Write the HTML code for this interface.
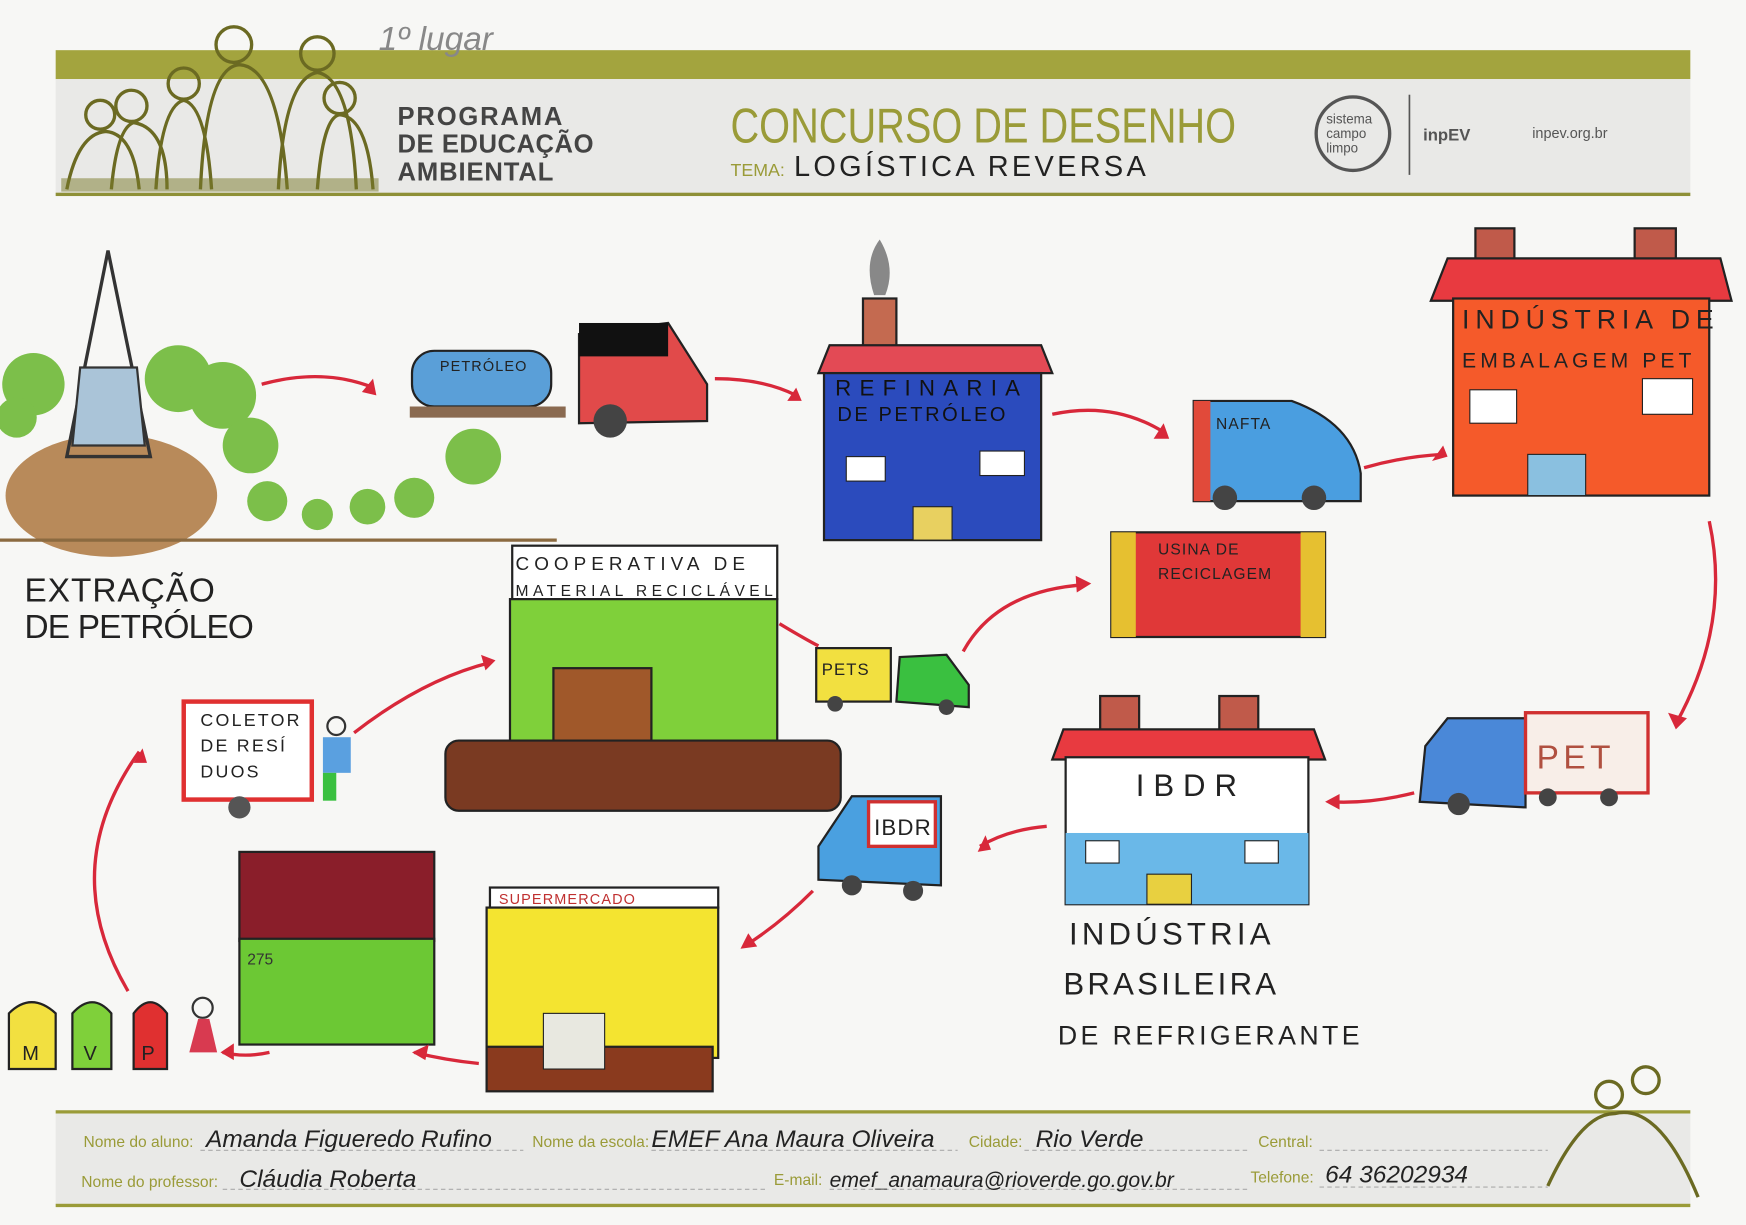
<!DOCTYPE html>
<html><head><meta charset="utf-8"><style>
html,body{margin:0;padding:0;background:#f6f6f4;}
svg{display:block}
text{font-family:"Liberation Sans",sans-serif}
.h{font-family:"Liberation Sans",sans-serif;fill:#222;letter-spacing:4px}
</style></head><body>
<svg width="1746" height="1225" viewBox="0 0 1568 1100" xmlns="http://www.w3.org/2000/svg">
<rect width="1568" height="1100" fill="#f7f7f5"/>
<!-- header -->
<rect x="50" y="45" width="1468" height="26" fill="#a3a43e"/>
<rect x="50" y="71" width="1468" height="103" fill="#e9e9e7"/>
<rect x="50" y="173" width="1468" height="3" fill="#8e9037"/>
<text x="340" y="45" font-size="30" fill="#888" font-style="italic" font-family="Liberation Serif">1º lugar</text>
<!-- people illustration -->
<g fill="none" stroke="#6b6a22" stroke-width="3">
<circle cx="90" cy="103" r="13"/><circle cx="118" cy="95" r="14"/><circle cx="165" cy="75" r="14"/><circle cx="210" cy="40" r="16"/><circle cx="285" cy="48" r="15"/><circle cx="305" cy="88" r="14"/>
<path d="M60 170 Q70 120 95 118 Q120 120 125 170"/><path d="M100 170 Q105 115 120 110 Q150 115 150 170"/><path d="M140 170 Q145 95 165 90 Q185 95 190 170"/><path d="M180 170 Q185 60 215 58 Q250 60 258 170"/><path d="M250 170 Q255 70 285 65 Q315 70 320 170"/><path d="M285 170 Q290 105 305 103 Q330 105 335 170"/>
</g>
<rect x="55" y="160" width="285" height="12" fill="#7a7a2a" opacity="0.5"/>
<text x="357" y="112" font-size="23" font-weight="bold" fill="#444" textLength="148">PROGRAMA</text>
<text x="357" y="137" font-size="23" font-weight="bold" fill="#444" textLength="176">DE EDUCAÇÃO</text>
<text x="357" y="162" font-size="23" font-weight="bold" fill="#444" textLength="140">AMBIENTAL</text>
<text x="656" y="128" font-size="44" fill="#9a9b38" textLength="454" lengthAdjust="spacingAndGlyphs">CONCURSO DE DESENHO</text>
<text x="656" y="158" font-size="16" fill="#9a9b38">TEMA:</text>
<text x="713" y="158" font-size="26" class="h" textLength="320">LOGÍSTICA   REVERSA</text>
<circle cx="1215" cy="120" r="33" fill="none" stroke="#555" stroke-width="3"/>
<text x="1191" y="111" font-size="12" fill="#555">sistema</text>
<text x="1191" y="124" font-size="12" fill="#555">campo</text>
<text x="1191" y="137" font-size="12" fill="#555">limpo</text>
<rect x="1265" y="85" width="1.5" height="72" fill="#555"/>
<text x="1278" y="126" font-size="15" font-weight="bold" fill="#555">inpEV</text>
<text x="1376" y="124" font-size="13" fill="#555">inpev.org.br</text>

<!-- extraction -->
<ellipse cx="100" cy="445" rx="95" ry="55" fill="#b88a5a"/>
<g fill="#7cbf4a"><circle cx="30" cy="345" r="28"/><circle cx="15" cy="375" r="18"/><circle cx="160" cy="340" r="30"/><circle cx="200" cy="355" r="30"/><circle cx="225" cy="400" r="25"/><circle cx="240" cy="450" r="18"/><circle cx="285" cy="462" r="14"/><circle cx="330" cy="455" r="16"/><circle cx="372" cy="447" r="18"/><circle cx="425" cy="410" r="25"/></g>
<path d="M60 410 L97 225 L135 410 Z" fill="none" stroke="#333" stroke-width="3"/>
<path d="M72 330 L123 330 L130 400 L65 400Z" fill="#aac4d8" stroke="#333" stroke-width="2"/>
<path d="M0 485 L500 485" stroke="#8b6a40" stroke-width="3"/>
<text x="22" y="540" font-size="30" class="h" textLength="175">EXTRAÇÃO</text>
<text x="22" y="573" font-size="30" class="h" textLength="210">DE PETRÓLEO</text>

<!-- petrol truck -->
<rect x="370" y="315" width="125" height="50" rx="20" fill="#5a9fd8" stroke="#222" stroke-width="2"/>
<text x="395" y="333" font-size="13" class="h" style="letter-spacing:1px">PETRÓLEO</text>
<rect x="368" y="365" width="140" height="10" fill="#8a6a50"/>
<path d="M520 300 L600 290 L635 345 L635 378 L520 380Z" fill="#e14a4a" stroke="#222" stroke-width="2"/>
<rect x="520" y="290" width="80" height="30" fill="#111"/>
<circle cx="548" cy="378" r="15" fill="#444"/>
<!-- refinery -->
<path d="M785 265 Q775 235 790 215 Q805 240 795 265Z" fill="#888"/>
<rect x="775" y="268" width="30" height="45" fill="#c46a50" stroke="#222" stroke-width="2"/>
<path d="M735 335 L745 310 L935 310 L945 335Z" fill="#e34a55" stroke="#222" stroke-width="2"/>
<rect x="740" y="335" width="195" height="150" fill="#2b4bbd" stroke="#222" stroke-width="2"/>
<text x="750" y="355" font-size="20" class="h" style="fill:#111" textLength="170">REFINARIA</text>
<text x="752" y="378" font-size="18" class="h" style="fill:#111" textLength="155">DE PETRÓLEO</text>
<rect x="760" y="410" width="35" height="22" fill="#fff" stroke="#222"/><rect x="880" y="405" width="40" height="22" fill="#fff" stroke="#222"/>
<rect x="820" y="455" width="35" height="30" fill="#e8d060" stroke="#222"/>
<!-- nafta van -->
<path d="M1072 360 L1160 360 Q1215 380 1222 425 L1222 450 L1072 450Z" fill="#4a9ee0" stroke="#222" stroke-width="2"/>
<rect x="1072" y="360" width="15" height="90" fill="#e14a3a"/>
<text x="1092" y="385" font-size="14" class="h" style="letter-spacing:1px">NAFTA</text>
<circle cx="1100" cy="447" r="11" fill="#444"/><circle cx="1180" cy="447" r="11" fill="#444"/>
<!-- PET industry -->
<rect x="1325" y="205" width="35" height="55" fill="#c05a4a" stroke="#222" stroke-width="2"/>
<rect x="1468" y="205" width="37" height="55" fill="#c05a4a" stroke="#222" stroke-width="2"/>
<path d="M1285 270 L1300 232 L1545 232 L1555 270Z" fill="#e83a40" stroke="#222" stroke-width="2"/>
<rect x="1305" y="268" width="230" height="177" fill="#f55a2a" stroke="#222" stroke-width="2"/>
<text x="1313" y="295" font-size="24" class="h" textLength="230">INDÚSTRIA DE</text>
<text x="1313" y="330" font-size="19" class="h" textLength="210">EMBALAGEM PET</text>
<rect x="1320" y="350" width="42" height="30" fill="#fff" stroke="#222"/><rect x="1475" y="340" width="45" height="32" fill="#fff" stroke="#222"/>
<rect x="1372" y="408" width="52" height="37" fill="#8ac0e0" stroke="#222"/>
<!-- usina -->
<rect x="998" y="478" width="192" height="94" fill="#e03838" stroke="#222" stroke-width="2"/>
<rect x="998" y="478" width="22" height="94" fill="#e6c030"/><rect x="1168" y="478" width="22" height="94" fill="#e6c030"/>
<text x="1040" y="498" font-size="14" class="h" style="letter-spacing:1px">USINA DE</text>
<text x="1040" y="520" font-size="14" class="h" style="letter-spacing:1px">RECICLAGEM</text>
<!-- cooperativa -->
<rect x="460" y="490" width="238" height="48" fill="#fff" stroke="#222" stroke-width="2"/>
<text x="463" y="512" font-size="17" class="h" textLength="210">COOPERATIVA DE</text>
<text x="463" y="535" font-size="14" class="h" textLength="232" style="letter-spacing:1px">MATERIAL RECICLÁVEL</text>
<rect x="458" y="538" width="240" height="130" fill="#7fd03a" stroke="#222" stroke-width="2"/>
<rect x="497" y="600" width="88" height="66" fill="#a0582a" stroke="#222" stroke-width="2"/>
<rect x="400" y="665" width="355" height="63" rx="12" fill="#7a3a22" stroke="#222" stroke-width="2"/>
<!-- pets truck -->
<rect x="733" y="582" width="67" height="48" fill="#f2e040" stroke="#222" stroke-width="2"/>
<text x="738" y="606" font-size="15" class="h" style="letter-spacing:1px">PETS</text>
<path d="M805 630 L808 590 L850 588 L870 615 L870 635Z" fill="#3ac040" stroke="#222" stroke-width="2"/>
<circle cx="750" cy="632" r="7" fill="#444"/><circle cx="850" cy="635" r="7" fill="#444"/>
<!-- coletor -->
<rect x="165" y="630" width="115" height="88" fill="#fff" stroke="#e03030" stroke-width="4"/>
<text x="180" y="652" font-size="16" class="h" style="letter-spacing:2px">COLETOR</text>
<text x="180" y="675" font-size="16" class="h" style="letter-spacing:2px">DE RESÍ</text>
<text x="180" y="698" font-size="16" class="h" style="letter-spacing:2px">DUOS</text>
<circle cx="215" cy="725" r="10" fill="#555"/>
<circle cx="302" cy="652" r="8" fill="none" stroke="#333" stroke-width="2"/>
<rect x="290" y="662" width="25" height="32" fill="#5aa0e0"/><rect x="290" y="694" width="12" height="25" fill="#3ac040"/>
<!-- PET truck right -->
<path d="M1275 720 L1280 670 L1300 645 L1370 645 L1370 725Z" fill="#4a88d8" stroke="#222" stroke-width="2"/>
<rect x="1370" y="640" width="110" height="72" fill="#f8eee8" stroke="#d03030" stroke-width="3"/>
<text x="1380" y="690" font-size="30" class="h" style="fill:#b05040">PET</text>
<circle cx="1310" cy="722" r="10" fill="#444"/><circle cx="1390" cy="716" r="8" fill="#444"/><circle cx="1445" cy="716" r="8" fill="#444"/>
<!-- IBDR -->
<rect x="988" y="625" width="35" height="45" fill="#c05a4a" stroke="#222" stroke-width="2"/>
<rect x="1095" y="625" width="35" height="45" fill="#c05a4a" stroke="#222" stroke-width="2"/>
<path d="M945 682 L955 655 L1180 655 L1190 682Z" fill="#e83a40" stroke="#222" stroke-width="2"/>
<rect x="957" y="680" width="218" height="132" fill="#fff" stroke="#222" stroke-width="2"/>
<rect x="957" y="748" width="218" height="64" fill="#6ab8e8"/>
<text x="1020" y="715" font-size="28" class="h" style="letter-spacing:8px">IBDR</text>
<rect x="975" y="755" width="30" height="20" fill="#fff" stroke="#222"/><rect x="1118" y="755" width="30" height="20" fill="#fff" stroke="#222"/>
<rect x="1030" y="785" width="40" height="27" fill="#e8d040" stroke="#222"/>
<text x="960" y="848" font-size="28" class="h" textLength="185">INDÚSTRIA</text>
<text x="955" y="893" font-size="28" class="h" textLength="195">BRASILEIRA</text>
<text x="950" y="938" font-size="24" class="h" textLength="275">DE REFRIGERANTE</text>
<!-- IBDR van -->
<path d="M735 790 L735 760 L765 715 L845 715 L845 795Z" fill="#4aa0e0" stroke="#222" stroke-width="2"/>
<rect x="780" y="720" width="60" height="40" fill="#fff" stroke="#d03030" stroke-width="3"/>
<text x="785" y="750" font-size="20" class="h" style="letter-spacing:1px">IBDR</text>
<circle cx="765" cy="795" r="9" fill="#444"/><circle cx="820" cy="800" r="9" fill="#444"/>
<!-- supermercado -->
<rect x="440" y="797" width="205" height="18" fill="#fff" stroke="#222" stroke-width="2"/>
<text x="448" y="812" font-size="13" fill="#c03030" style="letter-spacing:1px">SUPERMERCADO</text>
<rect x="437" y="815" width="208" height="135" fill="#f4e430" stroke="#222" stroke-width="2"/>
<rect x="437" y="940" width="203" height="40" fill="#8a3a1e" stroke="#222" stroke-width="2"/>
<rect x="488" y="910" width="55" height="50" fill="#e8e8e0" stroke="#222"/>
<!-- house -->
<rect x="215" y="765" width="175" height="80" fill="#8a1e2a" stroke="#222" stroke-width="2"/>
<rect x="215" y="843" width="175" height="95" fill="#6cc834" stroke="#222" stroke-width="2"/>
<text x="222" y="866" font-size="14" fill="#333">275</text>
<!-- bins -->
<g stroke="#222" stroke-width="2">
<path d="M8 960 L8 910 Q28 890 50 910 L50 960Z" fill="#f2e040"/>
<path d="M65 960 L65 910 Q83 890 100 910 L100 960Z" fill="#7fd03a"/>
<path d="M120 960 L120 910 Q135 890 150 910 L150 960Z" fill="#e03030"/>
</g>
<text x="20" y="952" font-size="18" class="h">M</text><text x="75" y="952" font-size="18" class="h">V</text><text x="127" y="952" font-size="18" class="h">P</text>
<circle cx="182" cy="905" r="9" fill="none" stroke="#333" stroke-width="2"/>
<path d="M170 945 L178 915 L188 915 L195 945Z" fill="#d83a50"/>
<!-- arrows -->
<g fill="none" stroke="#d8283a" stroke-width="3">
<path d="M235 345 Q290 330 335 348"/><path d="M642 340 Q685 340 715 355"/><path d="M945 372 Q1000 360 1045 388"/>
<path d="M1225 420 Q1260 410 1295 408"/><path d="M1535 468 Q1555 560 1505 650"/><path d="M1270 712 Q1230 722 1195 720"/>
<path d="M940 742 Q905 745 880 760"/><path d="M730 800 Q700 830 668 850"/><path d="M430 955 Q400 952 372 945"/>
<path d="M242 945 Q220 950 200 945"/><path d="M115 890 Q50 780 125 675"/><path d="M318 658 Q380 610 440 595"/>
<path d="M700 560 Q725 575 735 580"/><path d="M865 585 Q895 530 975 525"/>
</g>
<g fill="#d8283a">
<path d="M335 340 L338 355 L325 352Z"/><path d="M715 348 L720 360 L707 360Z"/><path d="M1045 380 L1050 394 L1036 394Z"/>
<path d="M1296 400 L1300 410 L1286 414Z"/><path d="M1505 655 L1498 640 L1515 645Z"/><path d="M1190 720 L1203 713 L1203 727Z"/>
<path d="M878 765 L885 750 L890 763Z"/><path d="M665 852 L672 838 L680 850Z"/><path d="M370 945 L385 938 L382 952Z"/>
<path d="M198 945 L210 937 L210 952Z"/><path d="M128 672 L120 685 L132 685Z"/><path d="M445 593 L432 588 L436 602Z"/><path d="M980 524 L966 517 L967 532Z"/>
</g>
<!-- footer -->
<rect x="50" y="997" width="1468" height="3" fill="#9a9b38"/>
<rect x="50" y="1000" width="1468" height="82" fill="#e9e9e7"/>
<rect x="50" y="1081" width="1468" height="3" fill="#9a9b38"/>
<g font-size="14" fill="#9a9b38">
<text x="75" y="1030">Nome do aluno:</text><text x="478" y="1030">Nome da escola:</text><text x="870" y="1030">Cidade:</text><text x="1130" y="1030">Central:</text>
<text x="73" y="1066">Nome do professor:</text><text x="695" y="1064">E-mail:</text><text x="1123" y="1062">Telefone:</text>
</g>
<g stroke="#aaa" stroke-dasharray="4 3" stroke-width="1">
<path d="M180 1033 H470 M585 1033 H860 M920 1033 H1120 M1185 1033 H1390 M200 1068 H690 M745 1068 H1120 M1185 1066 H1390"/>
</g>
<g font-size="22" fill="#222" font-style="italic" font-family="Liberation Serif">
<text x="185" y="1030">Amanda Figueredo Rufino</text><text x="585" y="1030">EMEF Ana Maura Oliveira</text><text x="930" y="1030">Rio Verde</text>
<text x="215" y="1066">Cláudia Roberta</text><text x="745" y="1066" font-size="19">emef_anamaura@rioverde.go.gov.br</text><text x="1190" y="1062">64 36202934</text>
</g>
<g fill="none" stroke="#6b6a22" stroke-width="3"><circle cx="1445" cy="983" r="12"/><circle cx="1478" cy="970" r="12"/><path d="M1390 1065 Q1420 1000 1450 1000 Q1490 990 1525 1075"/></g>
</svg>
</body></html>
